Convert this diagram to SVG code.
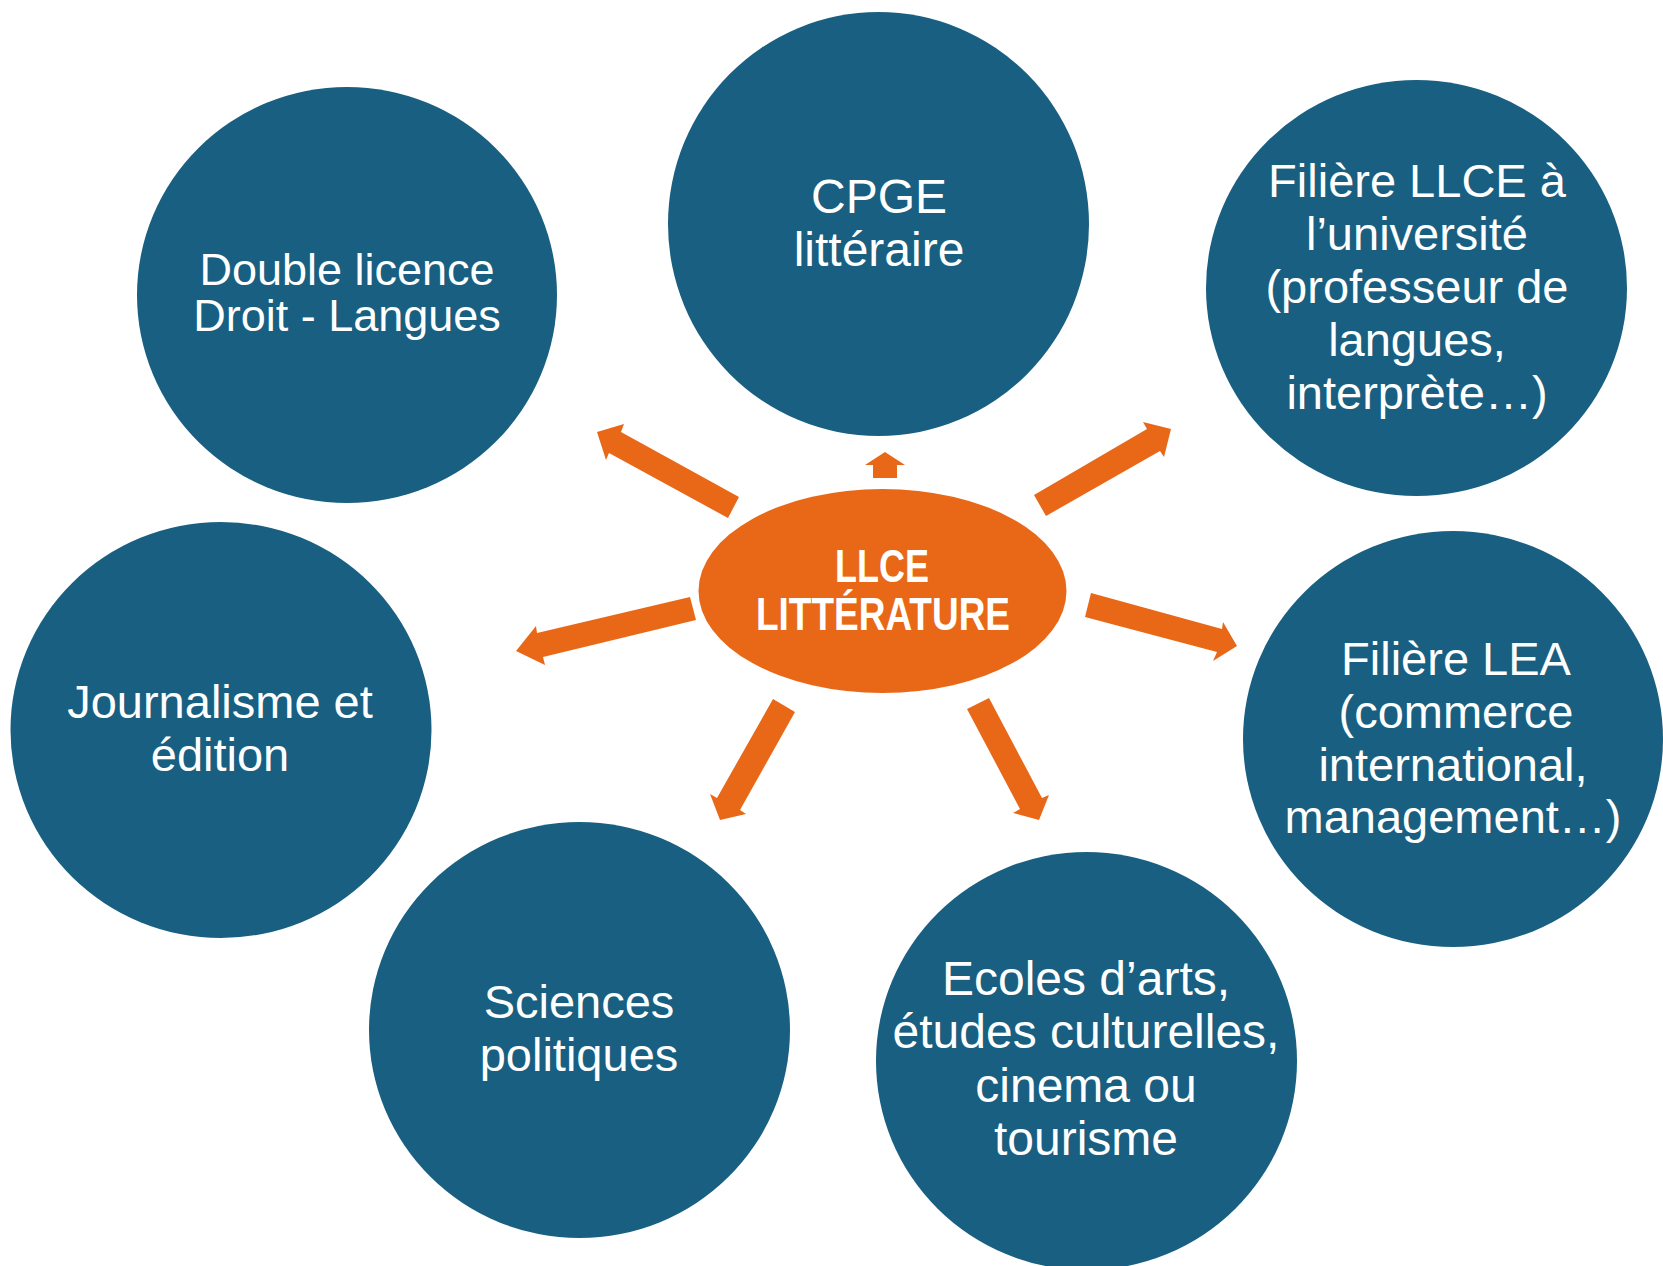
<svg xmlns="http://www.w3.org/2000/svg" width="1663" height="1266" viewBox="0 0 1663 1266">
<style>
.node{fill:#185F81;}
.t{font-family:"Liberation Sans",Arial,sans-serif;font-size:47px;fill:#FFFFFF;text-anchor:middle;}
.arrow{fill:#E96818;}
.center-t{font-family:"Liberation Sans",Arial,sans-serif;font-weight:bold;font-size:46px;fill:#FFFFFF;text-anchor:middle;}
</style>
<rect width="1663" height="1266" fill="#FFFFFF"/>
<g id="node-double-licence">
<ellipse class="node" cx="347" cy="295" rx="210" ry="208"/>
<text class="t" style="font-size:45px" x="347" y="285">Double licence</text>
<text class="t" style="font-size:45px" x="347" y="331">Droit - Langues</text>
</g>
<g id="node-cpge">
<ellipse class="node" cx="878.5" cy="224" rx="210.5" ry="212"/>
<text class="t" style="font-size:48px" x="879" y="213">CPGE</text>
<text class="t" style="font-size:48px" x="879" y="266">littéraire</text>
</g>
<g id="node-llce">
<ellipse class="node" cx="1416.5" cy="288" rx="210.5" ry="208"/>
<text class="t" x="1417" y="197">Filière LLCE  à</text>
<text class="t" x="1417" y="250">l’université</text>
<text class="t" x="1417" y="303">(professeur de</text>
<text class="t" x="1417" y="356">langues,</text>
<text class="t" x="1417" y="409">interprète…)</text>
</g>
<g id="node-journalisme">
<ellipse class="node" cx="221" cy="730" rx="210.5" ry="208"/>
<text class="t" x="220" y="718">Journalisme et</text>
<text class="t" x="220" y="771">édition</text>
</g>
<g id="node-lea">
<ellipse class="node" cx="1453" cy="739" rx="210" ry="208"/>
<text class="t" x="1456" y="675">Filière LEA</text>
<text class="t" x="1456" y="728">(commerce</text>
<text class="t" x="1453" y="781">international,</text>
<text class="t" x="1453" y="833">management…)</text>
</g>
<g id="node-sciences-po">
<ellipse class="node" cx="579.5" cy="1030" rx="210.5" ry="208"/>
<text class="t" x="579" y="1018">Sciences</text>
<text class="t" x="579" y="1071">politiques</text>
</g>
<g id="node-ecoles">
<ellipse class="node" cx="1086.5" cy="1061" rx="210.5" ry="209"/>
<text class="t" style="font-size:48px" x="1086" y="995">Ecoles d’arts,</text>
<text class="t" style="font-size:48px" x="1086" y="1048">études culturelles,</text>
<text class="t" style="font-size:48px" x="1086" y="1102">cinema ou</text>
<text class="t" style="font-size:48px" x="1086" y="1155">tourisme</text>
</g>
<g id="node-center">
<ellipse cx="882.5" cy="591" rx="184" ry="102" fill="#E96818"/>
<text class="center-t" x="882" y="582" textLength="94" lengthAdjust="spacingAndGlyphs">LLCE</text>
<text class="center-t" x="883" y="630" textLength="254" lengthAdjust="spacingAndGlyphs">LITTÉRATURE</text>
</g>
<g id="connectors">
<polygon class="arrow" points="739,497 621,432 624,424 597,432 606,460 609,453 728,518"/>
<polygon class="arrow" points="873,478 873,465 865,465 885,452 905,465 897,465 897,478"/>
<polygon class="arrow" points="1034,495 1147,429 1143,422 1171,429 1164,457 1160,451 1046,516"/>
<polygon class="arrow" points="690,597 537,633 536,626 516,651 545,665 543,657 696,620"/>
<polygon class="arrow" points="1091,593 1222,629 1223,622 1237,646 1213,661 1217,652 1085,617"/>
<polygon class="arrow" points="773,699 717,798 710,794 720,820 746,814 740,810 795,712"/>
<polygon class="arrow" points="967,709 1020,809 1013,813 1039,820 1049,795 1042,798 989,698"/>
</g>
</svg>
